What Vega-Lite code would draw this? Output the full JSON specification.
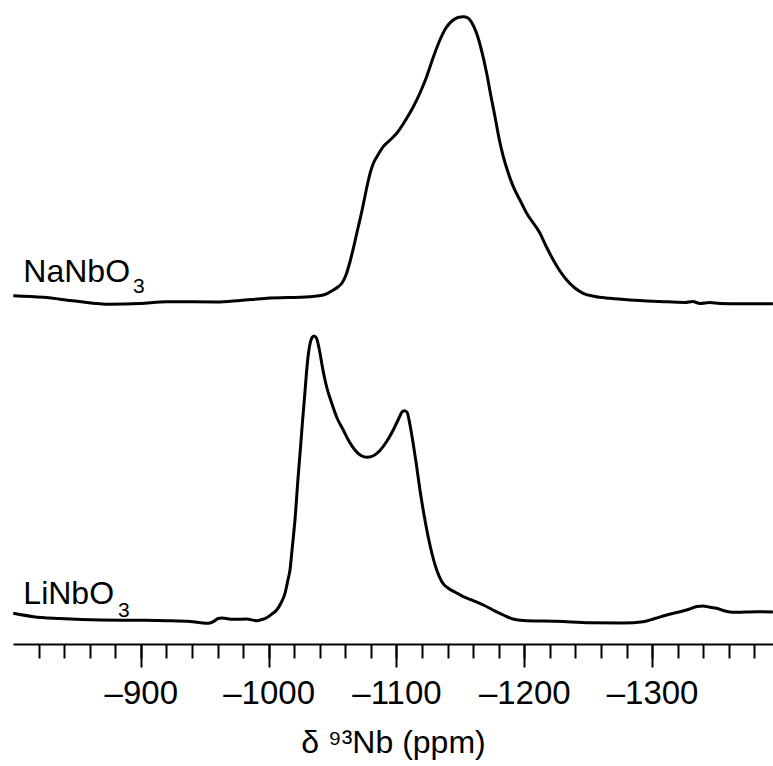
{
  "$schema": "https://vega.github.io/schema/vega-lite/v6.json",
  "width": 760,
  "height": 644,
  "padding": {"left": 13, "top": 0, "right": 0, "bottom": 122},
  "autosize": {"type": "none"},
  "background": "white",
  "config": {"view": {"stroke": null}, "font": "Liberation Sans"},
  "datasets": {
    "na": [
      {"ppm": -800.2, "I": 4.3}, {"ppm": -823.7, "I": 2.7}, {"ppm": -848.5, "I": -1}, {"ppm": -875.9, "I": -4.3},
      {"ppm": -899.4, "I": -3.5}, {"ppm": -920.2, "I": -1.7}, {"ppm": -959.3, "I": -2}, {"ppm": -977.6, "I": -0.5},
      {"ppm": -998.5, "I": 1.7}, {"ppm": -1032.3, "I": 3.3}, {"ppm": -1044.1, "I": 5.5}, {"ppm": -1050.6, "I": 10},
      {"ppm": -1054.2, "I": 13}, {"ppm": -1057.4, "I": 17}, {"ppm": -1060.5, "I": 25}, {"ppm": -1063.6, "I": 38},
      {"ppm": -1066.7, "I": 54}, {"ppm": -1069.9, "I": 72}, {"ppm": -1072.8, "I": 88}, {"ppm": -1075.4, "I": 104},
      {"ppm": -1077.9, "I": 119}, {"ppm": -1080.1, "I": 130}, {"ppm": -1082.4, "I": 138}, {"ppm": -1085.5, "I": 145},
      {"ppm": -1089.7, "I": 153.3}, {"ppm": -1095.0, "I": 160},
      {"ppm": -1100.2, "I": 166.7}, {"ppm": -1106.7, "I": 179}, {"ppm": -1113.2, "I": 193.3}, {"ppm": -1118.4, "I": 207},
      {"ppm": -1123.6, "I": 223.3}, {"ppm": -1128.6, "I": 242}, {"ppm": -1134.0, "I": 260}, {"ppm": -1138.7, "I": 272},
      {"ppm": -1143.4, "I": 279}, {"ppm": -1148.1, "I": 282.5}, {"ppm": -1152.3, "I": 283.3}, {"ppm": -1156.0, "I": 282},
      {"ppm": -1159.1, "I": 277}, {"ppm": -1162.7, "I": 266.7}, {"ppm": -1166.1, "I": 252}, {"ppm": -1170.6, "I": 226.7},
      {"ppm": -1173.9, "I": 204}, {"ppm": -1177.1, "I": 183.3}, {"ppm": -1180.2, "I": 162}, {"ppm": -1183.6, "I": 143.3},
      {"ppm": -1187.2, "I": 128}, {"ppm": -1191.4, "I": 113.3}, {"ppm": -1196.6, "I": 100}, {"ppm": -1201.9, "I": 86.7},
      {"ppm": -1212.3, "I": 66.7}, {"ppm": -1217.0, "I": 54}, {"ppm": -1222.7, "I": 40}, {"ppm": -1227.9, "I": 29},
      {"ppm": -1233.2, "I": 20}, {"ppm": -1239.6, "I": 12}, {"ppm": -1246.1, "I": 6.7}, {"ppm": -1255.3, "I": 3.5},
      {"ppm": -1267.0, "I": 1.7}, {"ppm": -1282.7, "I": 0}, {"ppm": -1306.1, "I": -1.5}, {"ppm": -1325.7, "I": -2.5},
      {"ppm": -1331.9, "I": -1.5}, {"ppm": -1337.4, "I": -3.5}, {"ppm": -1345.2, "I": -2.5}, {"ppm": -1353.0, "I": -3.5},
      {"ppm": -1368.7, "I": -3.8}, {"ppm": -1394.5, "I": -3.8}
    ],
    "li": [
      {"ppm": -800.2, "I": 6.7}, {"ppm": -815.9, "I": 3.3}, {"ppm": -836.8, "I": 1.5}, {"ppm": -868.1, "I": 0},
      {"ppm": -899.3, "I": -0.3}, {"ppm": -920.2, "I": -0.7}, {"ppm": -938.5, "I": -1.5}, {"ppm": -951.5, "I": -3.3},
      {"ppm": -954.1, "I": -3}, {"ppm": -956.7, "I": -1.7}, {"ppm": -960.4, "I": 1.5}, {"ppm": -963.5, "I": 2},
      {"ppm": -972.3, "I": 0.7}, {"ppm": -982.8, "I": 1}, {"ppm": -990.6, "I": -0.7}, {"ppm": -994.8, "I": 0.5},
      {"ppm": -998.5, "I": 2.3}, {"ppm": -1002.6, "I": 6}, {"ppm": -1006.3, "I": 10}, {"ppm": -1009.7, "I": 17},
      {"ppm": -1012.8, "I": 26.7}, {"ppm": -1015.1, "I": 40}, {"ppm": -1016.7, "I": 50}, {"ppm": -1018.3, "I": 70},
      {"ppm": -1020.6, "I": 100}, {"ppm": -1023.0, "I": 142}, {"ppm": -1024.9, "I": 172}, {"ppm": -1026.6, "I": 200},
      {"ppm": -1028.3, "I": 226}, {"ppm": -1029.8, "I": 250}, {"ppm": -1031.2, "I": 267}, {"ppm": -1032.7, "I": 278},
      {"ppm": -1034.3, "I": 283}, {"ppm": -1035.5, "I": 284}, {"ppm": -1037.4, "I": 282}, {"ppm": -1039.4, "I": 272},
      {"ppm": -1042.5, "I": 250},
      {"ppm": -1045.6, "I": 232}, {"ppm": -1049.3, "I": 217}, {"ppm": -1053.5, "I": 202}, {"ppm": -1058.4, "I": 190},
      {"ppm": -1062.8, "I": 179}, {"ppm": -1067.5, "I": 170}, {"ppm": -1072.2, "I": 164.5}, {"ppm": -1077.2, "I": 162.7},
      {"ppm": -1081.6, "I": 164}, {"ppm": -1087.1, "I": 169.5}, {"ppm": -1092.6, "I": 179}, {"ppm": -1097.5, "I": 190},
      {"ppm": -1102.0, "I": 202}, {"ppm": -1104.3, "I": 208}, {"ppm": -1106.1, "I": 209.3}, {"ppm": -1108.2, "I": 208},
      {"ppm": -1110.6, "I": 195}, {"ppm": -1112.9, "I": 178}, {"ppm": -1115.3, "I": 158}, {"ppm": -1118.4, "I": 130},
      {"ppm": -1122.3, "I": 100}, {"ppm": -1126.2, "I": 75}, {"ppm": -1131.5, "I": 50}, {"ppm": -1135.6, "I": 38},
      {"ppm": -1140.3, "I": 32}, {"ppm": -1145.8, "I": 28}, {"ppm": -1152.3, "I": 23.3}, {"ppm": -1159.9, "I": 19.5},
      {"ppm": -1168.0, "I": 15}, {"ppm": -1175.5, "I": 10}, {"ppm": -1183.6, "I": 5}, {"ppm": -1192.7, "I": 0.5},
      {"ppm": -1201.9, "I": -0.7}, {"ppm": -1225.3, "I": -1.3}, {"ppm": -1251.4, "I": -2.7}, {"ppm": -1277.4, "I": -3},
      {"ppm": -1293.1, "I": -1.7}, {"ppm": -1302.2, "I": 1.5}, {"ppm": -1311.4, "I": 5}, {"ppm": -1327.0, "I": 10},
      {"ppm": -1335.1, "I": 13.5}, {"ppm": -1340.0, "I": 14}, {"ppm": -1344.5, "I": 13}, {"ppm": -1350.5, "I": 11.7},
      {"ppm": -1357.0, "I": 9}, {"ppm": -1363.5, "I": 7.7}, {"ppm": -1381.8, "I": 8.3}, {"ppm": -1394.5, "I": 8}
    ],
    "naLab": [{"ppm": -808.1, "I": 18.3, "t": "NaNbO"}],
    "naSub": [{"ppm": -893.9, "I": 6.7, "t": "3"}],
    "liLab": [{"ppm": -808.1, "I": 15.7, "t": "LiNbO"}],
    "liSub": [{"ppm": -882.2, "I": 3.3, "t": "3"}]
  },
  "layer": [
    {
      "encoding": {
        "x": {
          "field": "ppm", "type": "quantitative",
          "scale": {"domain": [-800, -1394.6], "nice": false, "zero": false},
          "axis": {
            "orient": "bottom",
            "values": [-820, -840, -860, -880, -900, -920, -940, -960, -980, -1000, -1020, -1040, -1060, -1080, -1100, -1120, -1140, -1160, -1180, -1200, -1220, -1240, -1260, -1280, -1300, -1320, -1340, -1360, -1380],
            "tickSize": 14, "tickWidth": 2, "tickColor": "black",
            "labels": false, "domain": false, "grid": false, "title": null
          }
        },
        "y": {
          "field": "I", "type": "quantitative",
          "scale": {"domain": [-344, 300], "nice": false, "zero": false},
          "axis": null
        }
      },
      "layer": [
        {
          "data": {"name": "na"},
          "mark": {"type": "line", "color": "black", "strokeWidth": 3, "interpolate": "monotone"}
        },
        {
          "data": {"name": "naLab"},
          "mark": {"type": "text", "align": "left", "baseline": "alphabetic", "fontSize": 32, "color": "black", "font": "Liberation Sans"},
          "encoding": {"text": {"field": "t"}}
        },
        {
          "data": {"name": "naSub"},
          "mark": {"type": "text", "align": "left", "baseline": "alphabetic", "fontSize": 21, "color": "black", "font": "Liberation Sans"},
          "encoding": {"text": {"field": "t"}}
        }
      ]
    },
    {
      "encoding": {
        "x": {
          "field": "ppm", "type": "quantitative",
          "scale": {"domain": [-800, -1394.6], "nice": false, "zero": false},
          "axis": {
            "orient": "bottom",
            "values": [-900, -1000, -1100, -1200, -1300],
            "tickSize": 23, "tickWidth": 2, "tickColor": "black",
            "domain": true, "domainWidth": 2, "domainColor": "black",
            "grid": false,
            "labelExpr": "'\u2013' + format(abs(datum.value), 'd')",
            "labelFont": "Liberation Sans", "labelFontSize": 33, "labelColor": "black", "labelPadding": 10,
            "title": "\u03b4 \u2079\u00b3Nb (ppm)",
            "titleFont": "Liberation Sans", "titleFontSize": 32, "titleFontWeight": "normal", "titleColor": "black",
            "titleBaseline": "alphabetic", "titleY": 108
          }
        },
        "y": {
          "field": "I", "type": "quantitative",
          "scale": {"domain": [-24, 620], "nice": false, "zero": false},
          "axis": null
        }
      },
      "layer": [
        {
          "data": {"name": "li"},
          "mark": {"type": "line", "color": "black", "strokeWidth": 3, "interpolate": "monotone"}
        },
        {
          "data": {"name": "liLab"},
          "mark": {"type": "text", "align": "left", "baseline": "alphabetic", "fontSize": 32, "color": "black", "font": "Liberation Sans"},
          "encoding": {"text": {"field": "t"}}
        },
        {
          "data": {"name": "liSub"},
          "mark": {"type": "text", "align": "left", "baseline": "alphabetic", "fontSize": 21, "color": "black", "font": "Liberation Sans"},
          "encoding": {"text": {"field": "t"}}
        }
      ]
    }
  ],
  "resolve": {
    "scale": {"x": "independent", "y": "independent"},
    "axis": {"x": "independent", "y": "independent"}
  }
}
